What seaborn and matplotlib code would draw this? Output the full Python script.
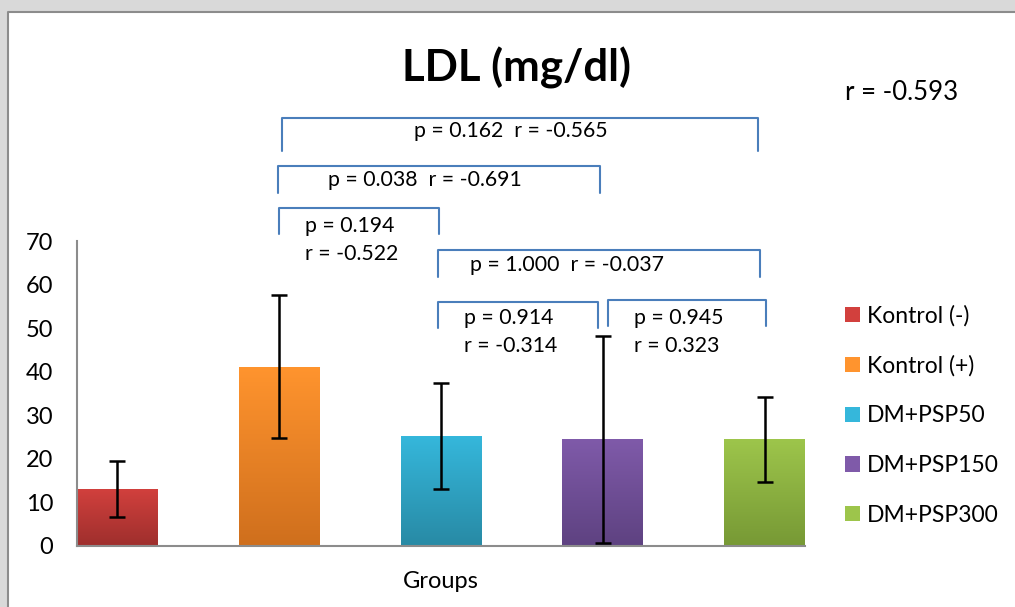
import matplotlib.pyplot as plt
import seaborn as sns
import numpy as np
from matplotlib.patches import Patch, Rectangle
from matplotlib.lines import Line2D
from matplotlib.colors import LinearSegmentedColormap

# data
groups = ["Kontrol (-)", "Kontrol (+)", "DM+PSP50", "DM+PSP150", "DM+PSP300"]
ldl_mean = [13.1, 41.1, 25.2, 24.5, 24.5]
ldl_sd = [6.5, 16.4, 12.1, 23.8, 9.7]

# bracket comparisons: (from group, to group, label lines)
comparisons = [
    (1, 4, ["p = 0.162  r = -0.565"]),
    (1, 3, ["p = 0.038  r = -0.691"]),
    (1, 2, ["p = 0.194", "r = -0.522"]),
    (2, 4, ["p = 1.000  r = -0.037"]),
    (2, 3, ["p = 0.914", "r = -0.314"]),
    (3, 4, ["p = 0.945", "r = 0.323"]),
]
overall_r = "r = -0.593"

top_colors = ["#D2403D", "#FF942E", "#35B7DB", "#7F5AA9", "#9DC54B"]
bottom_colors = ["#9E2F2D", "#CF6F1D", "#288AA5", "#5E4281", "#779935"]

sns.set_style("white")
plt.rcParams["font.family"] = ["Lato", "DejaVu Sans"]
plt.rcParams["text.color"] = "black"
plt.rcParams["ytick.color"] = "black"
plt.rcParams["axes.labelcolor"] = "black"

fig = plt.figure(figsize=(10.15, 6.07), dpi=100)
fig.patch.set_facecolor("#d9d9d9")
# white chart area with grey border on the left and top
left_px, top_px = 8 / 1015, 1 - 12 / 607
fig.patches.append(Rectangle((left_px, 0), 1 - left_px, top_px,
                             transform=fig.transFigure, facecolor="white",
                             edgecolor="none", zorder=-1))
fig.lines.append(Line2D([left_px, left_px, 1], [0, top_px, top_px],
                        transform=fig.transFigure, color="#8c8c8c", lw=1.5, zorder=-0.5))

ax = fig.add_axes([77 / 1015, 61 / 607, 728 / 1015, 305 / 607])
ax.set_facecolor("none")

sns.barplot(x=groups, y=ldl_mean, hue=groups, palette=top_colors,
            width=0.5, legend=False, ax=ax, zorder=2)

# gradient fill like the original (light top, dark bottom)
for patch, c_top, c_bot in zip(ax.patches, top_colors, bottom_colors):
    x0, y0 = patch.get_x(), patch.get_y()
    w, h = patch.get_width(), patch.get_height()
    cmap = LinearSegmentedColormap.from_list("g", [c_bot, c_top])
    grad = np.linspace(1, 0, 100).reshape(-1, 1)
    im = ax.imshow(grad, cmap=cmap, aspect="auto", extent=[x0, x0 + w, y0, y0 + h],
                   zorder=2.1, vmin=0, vmax=1)
    im.set_clip_path(patch)

xs = [p.get_x() + p.get_width() / 2 for p in ax.patches]
ax.errorbar(xs, ldl_mean, yerr=ldl_sd, fmt="none", ecolor="black",
            elinewidth=1.8, capsize=6, capthick=1.8, zorder=3)

ax.set_xlim(-0.25, 4.25)
ax.set_ylim(0, 70)
ax.set_yticks(range(0, 71, 10))
ax.tick_params(axis="y", labelsize=17, length=0, pad=17)
ax.set_xticks([])
ax.set_xlabel("Groups", fontsize=17, labelpad=18)
ax.set_ylabel("")
sns.despine(ax=ax)
for side in ["left", "bottom"]:
    ax.spines[side].set_color("#8c8c8c")
    ax.spines[side].set_linewidth(1.5)

# brackets above bars
bracket_levels = [(98.2, 90.7), (87.2, 81.0), (77.6, 71.6),
                  (67.9, 61.7), (56.0, 50.0), (56.5, 50.5)]
bracket_x = [(1.02, 3.96), (0.99, 2.98), (1.0, 1.99),
             (1.98, 3.97), (1.98, 2.97), (3.03, 4.01)]
text_pos = [(2.43, 95.2, "center"), (1.30, 84.0, "left"), (1.16, 73.4, "left"),
            (2.18, 64.5, "left"), (2.14, 52.3, "left"), (3.19, 52.3, "left")]
for (i, j, lines), (yt, yb), (xa, xb), (tx, ty, ha) in zip(
        comparisons, bracket_levels, bracket_x, text_pos):
    ax.plot([xa, xa, xb, xb], [yb, yt, yt, yb], color="#4A7EBB", lw=1.5,
            clip_on=False, solid_joinstyle="round", zorder=4)
    for k, line in enumerate(lines):
        ax.text(tx, ty - k * 6.3, line, ha=ha, va="center", fontsize=15.3,
                clip_on=False)

fig.text(517 / 1015, 1 - 68 / 607, "LDL (mg/dl)", ha="center", va="center",
         fontsize=31.5, fontweight="bold")
fig.text(845 / 1015, 1 - 93 / 607, overall_r, ha="left", va="center", fontsize=18.5)

handles = [Patch(facecolor=c, edgecolor="none") for c in top_colors]
ax.legend(handles, groups, loc="upper left", bbox_to_anchor=(845 / 1015, 1 - 305 / 607),
          bbox_transform=fig.transFigure, frameon=False, fontsize=16.5, borderpad=0,
          borderaxespad=0, handlelength=0.65, handleheight=0.65, handletextpad=0.3,
          labelspacing=1.25)

fig.savefig("out.png", dpi=100, facecolor=fig.get_facecolor())
